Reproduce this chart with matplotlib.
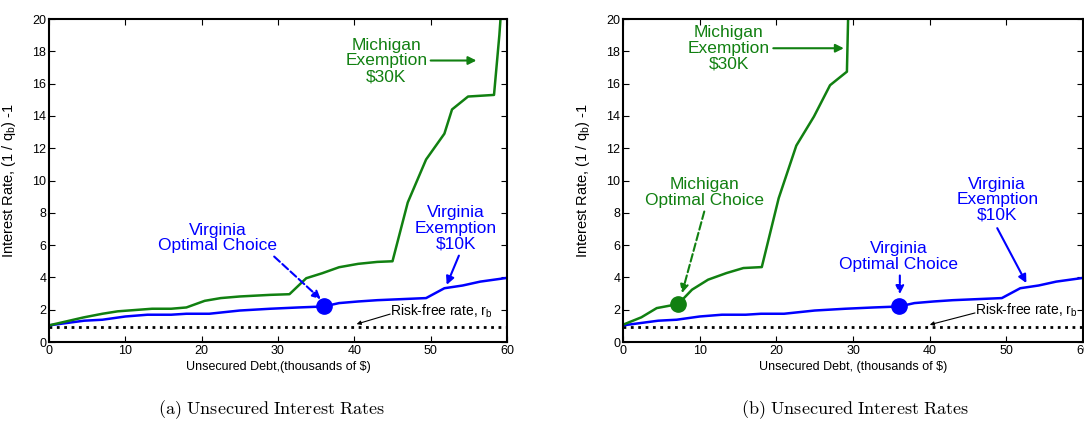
import matplotlib
matplotlib.use("Agg")
import matplotlib.pyplot as plt

plt.rcParams['font.family'] = ['Liberation Sans', 'DejaVu Sans']

# Michigan ($30K exemption) price schedule, panel (a)
mi_debt_a = [0, 4.5, 7, 9, 13.5, 16, 18, 20.4, 22.5, 25, 29, 31.5, 33.7, 35.8,
             38, 40.5, 43, 45, 47, 49.4, 51.8, 52.8, 54.9, 58.3, 59.0, 59.3]
mi_rate_a = [1.03, 1.52, 1.75, 1.9, 2.06, 2.06, 2.14, 2.55, 2.72, 2.82, 2.92, 2.96,
             3.95, 4.26, 4.63, 4.84, 4.96, 5.0, 8.64, 11.3, 12.9, 14.4, 15.2, 15.3,
             19.0, 21.0]

# Michigan price schedule, panel (b)
mi_debt_b = [0, 2.4, 4.4, 7.2, 9.0, 11.1, 13.5, 15.7, 18.1, 20.3, 22.6, 24.9,
             27.0, 29.2, 29.4]
mi_rate_b = [1.07, 1.53, 2.1, 2.35, 3.24, 3.86, 4.27, 4.58, 4.64, 8.9, 12.16,
             13.96, 15.9, 16.74, 21.0]

# Virginia ($10K exemption) price schedule, same in both panels
va_debt = [0, 4.6, 7, 10, 12.9, 16, 18, 21, 25, 29, 32.7, 36, 38, 40.5, 43,
           49.4, 51.8, 54.2, 56.5, 60]
va_rate = [1.03, 1.32, 1.38, 1.58, 1.69, 1.69, 1.75, 1.75, 1.95, 2.06, 2.14, 2.2,
           2.41, 2.51, 2.59, 2.72, 3.33, 3.5, 3.74, 3.97]

risk_free = 0.9
va_choice = (36.0, 2.2)
mi_choice = (7.2, 2.35)

GREEN = '#118011'
BLUE = '#0000ff'

fig = plt.figure(figsize=(10.84, 4.32), dpi=100)
ax_a = fig.add_axes([0.0452, 0.2083, 0.4225, 0.7477])
ax_b = fig.add_axes([0.5747, 0.2083, 0.4245, 0.7477])


def base_axes(ax, xlabel):
    ax.plot([0, 60], [risk_free, risk_free], color='black', linestyle=':', lw=2)
    ax.plot(va_debt, va_rate, color=BLUE, lw=1.8)
    ax.set_xlim(0, 60)
    ax.set_ylim(0, 20)
    ax.set_xticks(range(0, 61, 10))
    ax.set_yticks(range(0, 21, 2))
    ax.tick_params(direction='in', top=True, right=True, labelsize=9,
                   length=4, width=0.8, pad=2)
    for s in ax.spines.values():
        s.set_linewidth(1.5)
    ax.set_ylabel(r'Interest Rate, (1 / q$_\mathregular{b}$) -1', fontsize=10.5)
    ax.set_xlabel(xlabel, fontsize=9)
    ax.yaxis.set_label_coords(-0.068, 0.5)
    ax.xaxis.set_label_coords(0.5, -0.06)


def arrow(ax, tail, head, color, ls='-', lw=1.5, scale=12):
    ax.annotate('', xy=head, xytext=tail,
                arrowprops=dict(arrowstyle='-|>', color=color, lw=lw,
                                linestyle=ls, mutation_scale=scale,
                                shrinkA=0, shrinkB=0))


txt = dict(ha='center', va='center', fontsize=12.5, linespacing=1.05)

# panel (a)
base_axes(ax_a, 'Unsecured Debt,(thousands of $)')
ax_a.plot(mi_debt_a, mi_rate_a, color=GREEN, lw=1.8)
ax_a.plot(*va_choice, 'o', color=BLUE, ms=11)
ax_a.text(44.2, 17.4, 'Michigan\nExemption\n$30K', color=GREEN, **txt)
arrow(ax_a, (50.0, 17.43), (56.0, 17.43), GREEN)
ax_a.text(22.1, 6.45, 'Virginia\nOptimal Choice', color=BLUE, **txt)
arrow(ax_a, (29.5, 5.29), (35.6, 2.65), BLUE, ls='--')
ax_a.text(53.3, 7.05, 'Virginia\nExemption\n$10K', color=BLUE, **txt)
arrow(ax_a, (53.7, 5.35), (52.1, 3.54), BLUE)
ax_a.text(44.7, 1.93, r'Risk-free rate, r$_\mathregular{b}$', fontsize=10,
          ha='left', va='center')
arrow(ax_a, (44.7, 1.73), (40.3, 1.11), 'black', lw=0.8, scale=6)

# panel (b)
base_axes(ax_b, 'Unsecured Debt, (thousands of $)')
ax_b.plot(mi_debt_b, mi_rate_b, color=GREEN, lw=1.8)
ax_b.plot(*va_choice, 'o', color=BLUE, ms=11)
ax_b.plot(*mi_choice, 'o', color=GREEN, ms=11)
ax_b.text(13.8, 18.2, 'Michigan\nExemption\n$30K', color=GREEN, **txt)
arrow(ax_b, (19.6, 18.19), (28.8, 18.19), GREEN)
ax_b.text(10.6, 9.27, 'Michigan\nOptimal Choice', color=GREEN, **txt)
arrow(ax_b, (10.6, 8.08), (7.7, 3.03), GREEN, ls='--')
ax_b.text(48.8, 8.8, 'Virginia\nExemption\n$10K', color=BLUE, **txt)
arrow(ax_b, (48.8, 7.05), (52.6, 3.65), BLUE)
ax_b.text(35.9, 5.3, 'Virginia\nOptimal Choice', color=BLUE, **txt)
arrow(ax_b, (36.1, 4.12), (36.1, 2.97), BLUE, ls='--')
ax_b.text(45.9, 1.94, r'Risk-free rate, r$_\mathregular{b}$', fontsize=10,
          ha='left', va='center')
arrow(ax_b, (45.9, 1.8), (40.0, 1.07), 'black', lw=0.8, scale=6)

# sub-captions
fig.text(0.251, 0.052, r'$\mathrm{(a)\ Unsecured\ Interest\ Rates}$',
         ha='center', va='center', fontsize=13, math_fontfamily='cm')
fig.text(0.789, 0.052, r'$\mathrm{(b)\ Unsecured\ Interest\ Rates}$',
         ha='center', va='center', fontsize=13, math_fontfamily='cm')

fig.savefig('out.png', dpi=100)
